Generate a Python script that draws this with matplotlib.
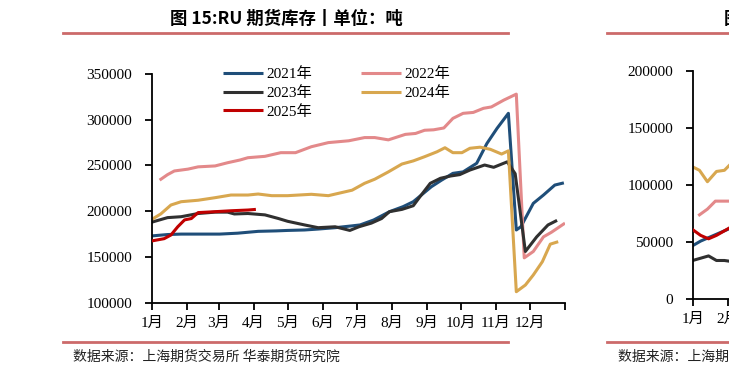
import matplotlib
matplotlib.use("Agg")
import matplotlib.pyplot as plt
from matplotlib.lines import Line2D

plt.rcParams['font.family'] = ['Liberation Serif', 'Noto Sans CJK SC', 'DejaVu Sans']

# ---------------- data: day-of-year offsets and inventories (tons) ----------------
d21 = [0, 14, 26, 45, 60, 76, 94, 110, 120, 135, 147, 162, 177, 184, 196, 210, 222, 231, 240, 247, 256, 266, 275, 287, 296, 305, 315, 322, 326, 337, 346, 356, 364]
v21 = [173000, 174500, 175000, 175000, 175000, 176000, 178000, 178500, 179000, 179500, 180500, 182000, 184000, 185000, 190400, 199500, 205000, 210400, 219600, 226800, 234000, 241400, 243000, 252400, 274000, 290600, 307000, 179500, 183000, 208600, 217700, 228600, 231000]

d22 = [7, 14, 20, 32, 41, 56, 67, 78, 85, 100, 114, 127, 141, 156, 174, 188, 197, 209, 224, 233, 241, 249, 258, 266, 275, 284, 293, 300, 311, 322, 329, 337, 346, 353, 365]
v22 = [234000, 240000, 244000, 246000, 248500, 249500, 253000, 256000, 258500, 260000, 264000, 264000, 270500, 275000, 277000, 280500, 280500, 278000, 284000, 285000, 288500, 289000, 291000, 301500, 307000, 308000, 312500, 314000, 321500, 328000, 149000, 156000, 172000, 177000, 187000]

d23 = [0, 14, 26, 41, 56, 67, 73, 85, 100, 112, 120, 135, 147, 162, 175, 183, 194, 203, 210, 221, 231, 237, 246, 255, 264, 272, 281, 294, 302, 314, 321, 330, 340, 350, 358]
v23 = [188000, 193000, 194000, 197500, 199000, 199000, 197000, 197500, 196000, 192000, 189000, 185000, 182000, 183000, 179000, 183000, 187000, 192000, 199500, 202000, 206000, 216000, 230500, 236000, 238500, 240000, 245000, 250500, 248000, 254000, 241000, 156000, 172000, 185000, 190000]

d24 = [0, 8, 17, 26, 41, 56, 70, 85, 94, 106, 120, 141, 156, 177, 188, 197, 209, 221, 231, 241, 252, 259, 266, 274, 281, 290, 299, 309, 315, 322, 330, 337, 345, 352, 359]
v24 = [191000, 197000, 206800, 210400, 212000, 214800, 217700, 217700, 218800, 217000, 217000, 218500, 217000, 223000, 230500, 235000, 243000, 251600, 255000, 259600, 265000, 269400, 264000, 264000, 268800, 270000, 267700, 262500, 266000, 112000, 119300, 130300, 144800, 164000, 166700]

d25 = [0, 11, 17, 23, 29, 35, 41, 56, 70, 85, 92]
v25 = [167500, 170000, 174000, 183000, 190500, 192000, 198500, 199500, 200500, 201300, 202000]

# second (cut-off) chart
r21_d = [0, 7, 14, 21, 28, 35]
r21_v = [47000, 51000, 54000, 57000, 60000, 63000]
r22_d = [6, 13, 20, 28, 35]
r22_v = [74000, 79000, 86000, 86000, 86000]
r23_d = [0, 7, 14, 21, 28, 35]
r23_v = [34000, 36000, 38000, 34000, 34000, 33000]
r24_d = [0, 6, 13, 21, 28, 33]
r24_v = [116000, 113000, 103000, 112000, 113000, 118000]
r25_d = [0, 7, 14, 21, 28, 35]
r25_v = [61000, 56000, 53000, 56000, 60000, 64000]

month_starts = [0, 31, 59, 90, 120, 151, 181, 212, 243, 273, 304, 334, 365]
month_labels = ['1月', '2月', '3月', '4月', '5月', '6月', '7月', '8月', '9月', '10月', '11月', '12月', '']
series_names = ['2021年', '2022年', '2023年', '2024年', '2025年']
colors = {'2021年': '#1F4E79', '2022年': '#E3898A', '2023年': '#303030',
          '2024年': '#D8A74F', '2025年': '#C00000'}

W, H = 729, 377
fig = plt.figure(figsize=(W / 100, H / 100), dpi=100)


def px_ax(x0, y_bottom, x1, y_top):
    return fig.add_axes([x0 / W, 1 - y_bottom / H, (x1 - x0) / W, (y_bottom - y_top) / H])


def style_axes(ax, ymin, ymax, ystep, labels):
    for s in ['top', 'right']:
        ax.spines[s].set_visible(False)
    for s in ['left', 'bottom']:
        ax.spines[s].set_linewidth(1.3)
        ax.spines[s].set_color('black')
    ax.set_xlim(0, 365)
    ax.set_ylim(ymin, ymax)
    ax.set_yticks(list(range(ymin, ymax + 1, ystep)))
    ax.set_yticklabels([str(v) for v in range(ymin, ymax + 1, ystep)])
    ax.set_xticks(month_starts)
    ax.set_xticklabels(labels)
    ax.tick_params(axis='y', direction='out', length=5, width=1.3, pad=9, labelsize=11)
    ax.tick_params(axis='x', direction='out', length=5, width=1.3, pad=5, labelsize=11)
    ax.set_facecolor('none')


# ---------------- main chart ----------------
ax = px_ax(151.7, 302.7, 565, 74)
style_axes(ax, 100000, 350000, 50000, month_labels)
lw = 2.2
h = {}
h['2021年'], = ax.plot(d21, v21, color=colors['2021年'], lw=lw, solid_capstyle='butt')
h['2022年'], = ax.plot(d22, v22, color=colors['2022年'], lw=lw, solid_capstyle='butt')
h['2023年'], = ax.plot(d23, v23, color=colors['2023年'], lw=lw, solid_capstyle='butt')
h['2024年'], = ax.plot(d24, v24, color=colors['2024年'], lw=lw, solid_capstyle='butt')
h['2025年'], = ax.plot(d25, v25, color=colors['2025年'], lw=lw, solid_capstyle='butt', zorder=5)

order = ['2021年', '2023年', '2025年', '2022年', '2024年']
ax.legend([h[k] for k in order], order, ncol=2, frameon=False, loc='upper left',
          bbox_to_anchor=((223 - 151.7) / 413.3, (302.7 - 67) / 228.7),
          borderaxespad=0, borderpad=0, handlelength=2.6, handletextpad=0.25,
          columnspacing=3.2, labelspacing=0.33, fontsize=11)

# ---------------- second (cut-off) chart ----------------
ax2 = px_ax(692.7, 299.3, 692.7 + 413.3, 71)
style_axes(ax2, 0, 200000, 50000, month_labels[:2] + [''] * 11)
ax2.plot(r21_d, r21_v, color=colors['2021年'], lw=lw)
ax2.plot(r22_d, r22_v, color=colors['2022年'], lw=lw)
ax2.plot(r23_d, r23_v, color=colors['2023年'], lw=lw)
ax2.plot(r24_d, r24_v, color=colors['2024年'], lw=lw)
ax2.plot(r25_d, r25_v, color=colors['2025年'], lw=lw, zorder=5)

# ---------------- titles, rules, sources ----------------
rule_color = '#CC6A6A'
for (x0, x1) in [(63, 508), (607, 729)]:
    for yy in (33, 341.7):
        fig.add_artist(Line2D([x0 / W, x1 / W], [1 - yy / H, 1 - yy / H],
                              color=rule_color, lw=2.0, transform=fig.transFigure))

fig.text(286 / W, 1 - 19 / H, '图 15:RU 期货库存丨单位：吨', ha='center', va='center',
         fontsize=12.5, fontweight='bold', family=['Noto Sans CJK SC', 'DejaVu Sans'])
fig.text(724 / W, 1 - 19 / H, '图 16:NR 期货库存丨单位：吨', ha='left', va='center',
         fontsize=12.5, fontweight='bold', family=['Noto Sans CJK SC', 'DejaVu Sans'])

src = '数据来源：上海期货交易所 华泰期货研究院'
fig.text(73 / W, 1 - 357 / H, src, ha='left', va='center', fontsize=10,
         color='#222222', family=['Noto Sans CJK SC', 'DejaVu Sans'])
fig.text(618 / W, 1 - 357 / H, src, ha='left', va='center', fontsize=10,
         color='#222222', family=['Noto Sans CJK SC', 'DejaVu Sans'])

fig.savefig('out.png', dpi=100)
